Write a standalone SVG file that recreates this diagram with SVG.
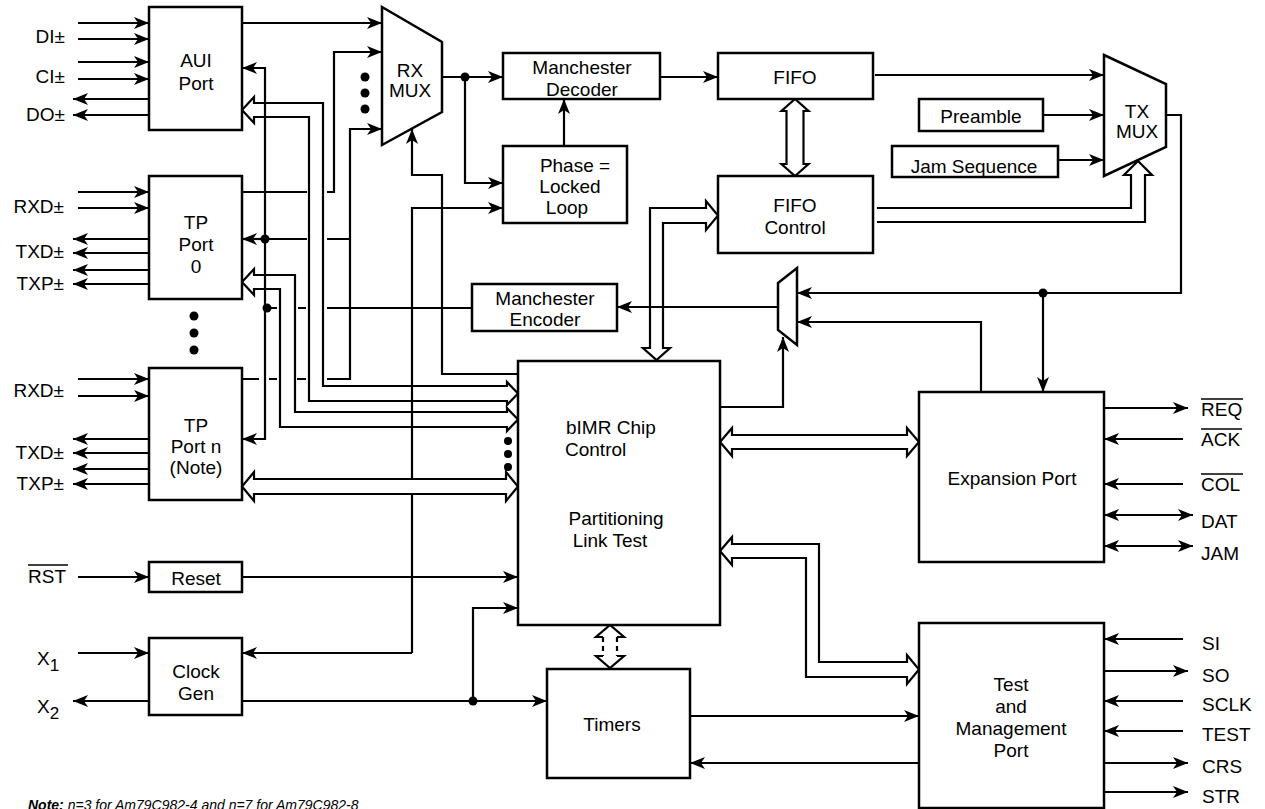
<svg xmlns="http://www.w3.org/2000/svg" width="1265" height="809" viewBox="0 0 1265 809">
<defs>
<marker id="a" viewBox="0 0 15 12" refX="15" refY="6" markerWidth="15" markerHeight="12" markerUnits="userSpaceOnUse" orient="auto-start-reverse"><path d="M0,0 L15,6 L0,12 L4,6 z" fill="#000"/></marker>
</defs>
<style>
.box{fill:#fff;stroke:#000;stroke-width:2.5}
.ln{fill:none;stroke:#000;stroke-width:2.2}
.ar{marker-end:url(#a)}
.ba{marker-start:url(#a);marker-end:url(#a)}
.bus{fill:#fff;stroke:#000;stroke-width:2.2}
.busn{fill:none;stroke:#000;stroke-width:2.2}
.dash{fill:none;stroke:#000;stroke-width:2.2;stroke-dasharray:5,4}
text{font-family:"Liberation Sans",Arial,Helvetica,sans-serif;font-size:19px;fill:#000}
text.note{font-size:14px;font-style:italic}
.sub{font-size:17px}
.c{text-anchor:middle}
.r{text-anchor:end}
.ov{stroke:#000;stroke-width:1.5}
</style>
<rect width="1265" height="809" fill="#fff"/>
<g id="connectors">
<path class="ln ar" d="M78,23 H149"/>
<path class="ln ar" d="M78,39 H149"/>
<path class="ln ar" d="M78,62 H149"/>
<path class="ln ar" d="M78,79 H149"/>
<path class="ln ar" d="M149,99 H73"/>
<path class="ln ar" d="M149,115 H73"/>
<path class="ln ar" d="M78,192 H149"/>
<path class="ln ar" d="M78,208 H149"/>
<path class="ln ar" d="M149,239 H73"/>
<path class="ln ar" d="M149,253 H73"/>
<path class="ln ar" d="M149,270 H73"/>
<path class="ln ar" d="M149,284 H73"/>
<path class="ln ar" d="M78,379 H149"/>
<path class="ln ar" d="M78,396 H149"/>
<path class="ln ar" d="M149,439 H73"/>
<path class="ln ar" d="M149,453 H73"/>
<path class="ln ar" d="M149,469 H73"/>
<path class="ln ar" d="M149,484 H73"/>
<path class="ln ar" d="M78,577 H149"/>
<path class="ln ar" d="M78,653 H149"/>
<path class="ln ar" d="M149,701 H73"/>
<path class="ln ar" d="M242,23 H382"/>
<path class="ln ar" d="M242,192 H307 M327,192 H334 V52 H382"/>
<path class="ln ar" d="M242,379 H259 M269,379 H277 M297,379 H306 M327,379 H350 V129 H382"/>
<path class="ln ar" d="M265,308 V68 H242"/>
<path class="ln ar" d="M265,239 H242"/>
<path class="ln ar" d="M265,308 V439 H242"/>
<path class="ln" d="M265,239 H307 M327,239 H349"/>
<path class="ln" d="M472,308 H327 M306,308 H298 M277,308 H266"/>
<path class="ln ar" d="M518,374 H442 V175 H412 V129"/>
<path class="ln ar" d="M442,77 H503"/>
<path class="ln ar" d="M465,77 V183 H503"/>
<path class="ln ar" d="M412,653 V208 H503"/>
<path class="ln ar" d="M412,653 H242"/>
<path class="ln ar" d="M564,146 V99"/>
<path class="ln ar" d="M660,77 H718"/>
<path class="ln ar" d="M875,75 H1104"/>
<path class="ln ar" d="M1043,115 H1104"/>
<path class="ln ar" d="M1058,160 H1104"/>
<path class="ln ar" d="M1166,115 H1181 V293 H797"/>
<path class="ln ar" d="M1043,293 V392"/>
<path class="ln ar" d="M981,392 V322 H797"/>
<path class="ln ar" d="M778,307 H617"/>
<path class="ln ar" d="M720,407 H783 V337"/>
<path class="ln ar" d="M242,577 H518"/>
<path class="ln ar" d="M242,701 H547"/>
<path class="ln ar" d="M473,701 V608 H518"/>
<path class="ln ar" d="M690,716 H919"/>
<path class="ln ar" d="M919,763 H690"/>
<path class="ln ar" d="M1104,408 H1188"/>
<path class="ln ar" d="M1183,439 H1104"/>
<path class="ln ar" d="M1183,484 H1104"/>
<path class="ln ba" d="M1104,515 H1193"/>
<path class="ln ba" d="M1104,546 H1193"/>
<path class="ln ar" d="M1183,639 H1104"/>
<path class="ln ar" d="M1104,671 H1188"/>
<path class="ln ar" d="M1183,701 H1104"/>
<path class="ln ar" d="M1183,731 H1104"/>
<path class="ln ar" d="M1104,763 H1188"/>
<path class="ln ar" d="M1104,792 H1188"/>
<path class="busn" d="M507,386 H323 V103 H254 V97 L242,110 L254,123 V117 H309 V401 H507 V405 L518,393.5 L507,382 Z"/>
<path class="busn" d="M507,412 H295 V275 H254 V269 L242,282 L254,295 V289 H280 V427 H507 V431 L518,419.5 L507,408 Z"/>
<path class="bus" d="M254,479 H506 V472 L518,486.5 L506,501 V494 H254 V501 L242,486.5 L254,472 Z"/>
<path class="bus" d="M786.5,111 V164 H781.5 L795,176 L808.5,164 H803.5 V111 H808.5 L795,99 L781.5,111 Z"/>
<path class="busn" d="M877,208 H1131 V175 H1124 L1138,161 L1152,175 H1145 V222 H877"/>
<path class="busn" d="M650,348 V208 H706 V201 L718,215.5 L706,230 V223 H663 V348 H670 L656.5,360 L643,348 Z"/>
<path class="bus" d="M732,435 H907 V428 L919,442 L907,456 V449 H732 V456 L720,442 L732,428 Z"/>
<path class="busn" d="M732,544 H819 V662 H907 V655 L919,669.5 L907,684 V677 H806 V558 H732 V565 L720,551 L732,537 Z"/>
<path class="busn" d="M603,637 H596 L610,625 L624,637 H617 M603,656 H596 L610,668 L624,656 H617"/>
<path class="dash" d="M603,637 V656 M617,637 V656"/>
<circle cx="465" cy="77" r="4.5"/>
<circle cx="265" cy="239" r="4.5"/>
<circle cx="267" cy="308" r="4.5"/>
<circle cx="1043" cy="293" r="4.5"/>
<circle cx="473" cy="701" r="4.5"/>
<circle cx="365" cy="77" r="4.5"/>
<circle cx="365" cy="93" r="4.5"/>
<circle cx="365" cy="109" r="4.5"/>
<circle cx="194" cy="316" r="4.5"/>
<circle cx="194" cy="333" r="4.5"/>
<circle cx="194" cy="350" r="4.5"/>
<circle cx="508" cy="441" r="4"/>
<circle cx="508" cy="454" r="4"/>
<circle cx="508" cy="467" r="4"/>
</g>
<g id="aui"><rect class="box" x="149" y="7" width="93" height="123"/><text class="c" x="196" y="67">AUI</text><text class="c" x="196" y="90">Port</text></g>
<g id="tp0"><rect class="box" x="149" y="176" width="93" height="123"/><text class="c" x="196" y="229">TP</text><text class="c" x="196" y="251">Port</text><text class="c" x="196" y="273">0</text></g>
<g id="tpn"><rect class="box" x="149" y="368" width="93" height="132"/><text class="c" x="196" y="432">TP</text><text class="c" x="196" y="453">Port n</text><text class="c" x="196" y="474">(Note)</text></g>
<g id="reset"><rect class="box" x="149" y="562" width="93" height="30"/><text class="c" x="196" y="585">Reset</text></g>
<g id="clockgen"><rect class="box" x="149" y="638" width="93" height="77"/><text class="c" x="196" y="678">Clock</text><text class="c" x="196" y="700">Gen</text></g>
<g id="rxmux"><path class="box" d="M382,7 L442,42 L442,112 L382,145 Z"/><text class="c" x="410" y="77">RX</text><text class="c" x="410" y="97">MUX</text></g>
<g id="mdec"><rect class="box" x="503" y="53" width="157" height="46"/><text class="c" x="582" y="74">Manchester</text><text class="c" x="582" y="96">Decoder</text></g>
<g id="pll"><rect class="box" x="503" y="146" width="124" height="77"/><text class="c" x="575" y="172">Phase =</text><text class="c" x="570" y="193">Locked</text><text class="c" x="567" y="214">Loop</text></g>
<g id="fifo"><rect class="box" x="718" y="53" width="155" height="46"/><text class="c" x="795" y="84">FIFO</text></g>
<g id="fifoctl"><rect class="box" x="718" y="176" width="155" height="77"/><text class="c" x="795" y="212">FIFO</text><text class="c" x="795" y="234">Control</text></g>
<g id="preamble"><rect class="box" x="919" y="99" width="124" height="32"/><text class="c" x="981" y="123">Preamble</text></g>
<g id="jam"><rect class="box" x="892" y="146" width="166" height="31"/><text class="c" x="974" y="173">Jam Sequence</text></g>
<g id="txmux"><path class="box" d="M1104,55 L1166,84 L1166,147 L1104,176 Z"/><text class="c" x="1137" y="118">TX</text><text class="c" x="1137" y="138">MUX</text></g>
<g id="txsel"><path class="box" d="M778,283 L797,268 L797,345 L778,330 Z"/></g>
<g id="menc"><rect class="box" x="472" y="284" width="145" height="47"/><text class="c" x="545" y="305">Manchester</text><text class="c" x="545" y="326">Encoder</text></g>
<g id="bimr"><rect class="box" x="518" y="361" width="202" height="264"/><text x="566" y="434">bIMR Chip</text><text x="565" y="456">Control</text><text class="c" x="616" y="525">Partitioning</text><text class="c" x="610" y="547">Link Test</text></g>
<g id="timers"><rect class="box" x="547" y="669" width="143" height="109"/><text class="c" x="612" y="731">Timers</text></g>
<g id="expansion"><rect class="box" x="919" y="392" width="185" height="170"/><text class="c" x="1012" y="485">Expansion Port</text></g>
<g id="tmp"><rect class="box" x="919" y="623" width="185" height="185"/><text class="c" x="1011" y="691">Test</text><text class="c" x="1011" y="713">and</text><text class="c" x="1011" y="735">Management</text><text class="c" x="1011" y="757">Port</text></g>
<g id="labels">
<text class="r" x="65" y="43">DI±</text>
<text class="r" x="65" y="83">CI±</text>
<text class="r" x="65" y="121">DO±</text>
<text class="r" x="64" y="213">RXD±</text>
<text class="r" x="64" y="258">TXD±</text>
<text class="r" x="64" y="290">TXP±</text>
<text class="r" x="64" y="397">RXD±</text>
<text class="r" x="64" y="459">TXD±</text>
<text class="r" x="64" y="490">TXP±</text>
<text x="28" y="583">RST</text><line class="ov" x1="28" y1="565" x2="68" y2="565"/>
<text x="37" y="665">X<tspan class="sub" dy="6">1</tspan></text>
<text x="37" y="713">X<tspan class="sub" dy="6">2</tspan></text>
<text x="1201" y="416">REQ</text><line class="ov" x1="1201" y1="399" x2="1243" y2="399"/>
<text x="1201" y="446">ACK</text><line class="ov" x1="1201" y1="429" x2="1242" y2="429"/>
<text x="1201" y="491">COL</text><line class="ov" x1="1201" y1="474" x2="1243" y2="474"/>
<text x="1201" y="528">DAT</text>
<text x="1201" y="560">JAM</text>
<text x="1202" y="650">SI</text>
<text x="1202" y="682">SO</text>
<text x="1202" y="711">SCLK</text>
<text x="1202" y="741">TEST</text>
<text x="1202" y="773">CRS</text>
<text x="1202" y="803">STR</text>
<text class="note" x="28" y="810"><tspan font-weight="bold">Note:</tspan> n=3 for Am79C982-4 and n=7 for Am79C982-8</text>
</g>
</svg>
